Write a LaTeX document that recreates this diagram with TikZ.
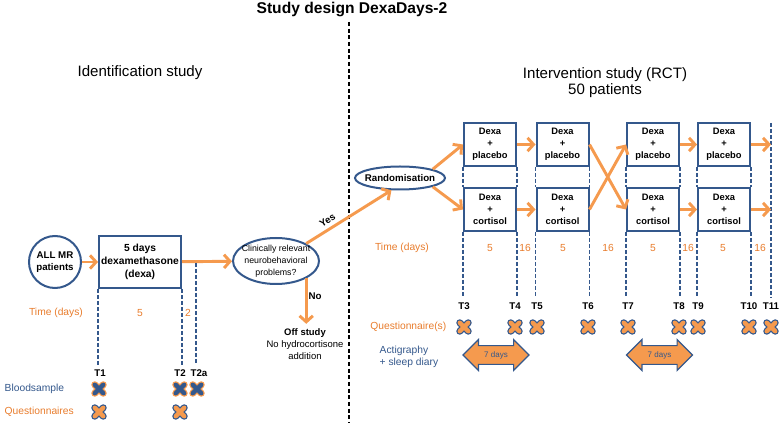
\documentclass[tikz,border=0pt]{standalone}
\usepackage{fontspec}
\setmainfont{Liberation Sans}
\usetikzlibrary{arrows.meta,shapes.geometric,shapes.arrows}

\definecolor{dblue}{RGB}{52,88,140}
\definecolor{lorange}{RGB}{245,154,78}
\definecolor{dorange}{RGB}{232,124,44}

\tikzset{
  box/.style={draw=dblue, line width=1.5pt, minimum width=39pt, minimum height=32.25pt, inner sep=0pt, align=center, font=\fontsize{7}{9}\selectfont\bfseries},
  arr/.style={draw=lorange, line width=2.2pt, -{Straight Barb[length=4.5pt,width=10pt]}},
  tline/.style={draw=dblue, line width=1.1pt, dash pattern=on 3pt off 1.5pt},
  tlab/.style={font=\fontsize{7.3}{9}\selectfont\bfseries},
  days/.style={text=dorange, font=\fontsize{7.7}{9}\selectfont},
  darrow/.style={double arrow, draw=dblue, fill=lorange, line width=0.9pt, double arrow head extend=4.5pt, double arrow tip angle=90, minimum height=49.5pt, inner xsep=2pt, inner ysep=3.8pt, text=dblue, font=\fontsize{6}{7}\selectfont},
  pics/xcross/.style 2 args={code={
    \draw[#2, line width=5.2pt, line cap=round] (-3.2pt,-3.2pt) -- (3.2pt,3.2pt) (-3.2pt,3.2pt) -- (3.2pt,-3.2pt);
    \draw[#1, line width=3.2pt, line cap=round] (-3.2pt,-3.2pt) -- (3.2pt,3.2pt) (-3.2pt,3.2pt) -- (3.2pt,-3.2pt);
  }}
}

\begin{document}
\begin{tikzpicture}[x=0.75pt, y=-0.75pt]
\useasboundingbox (0,0) rectangle (781,423);

\node (title) at (352,10) [font=\fontsize{11.7}{14}\selectfont\bfseries] {Study design DexaDays-2};
\draw[line width=0.8pt, dash pattern=on 3pt off 2pt] (349,22) -- (349,423);

\node (ident) at (140,73) [font=\fontsize{11.3}{13}\selectfont] {Identification study};
\node (interv) at (605,83) [align=center, font=\fontsize{11.3}{12}\selectfont] {Intervention study (RCT)\\50 patients};

% identification study
\node (allmr) at (55,262) [circle, draw=dblue, line width=1.5pt, minimum size=39pt, inner sep=0pt, align=center, font=\fontsize{7.3}{9}\selectfont\bfseries] {ALL MR\\patients};
\node (dexa5) at (140,262) [box, minimum width=61.5pt, minimum height=39pt, font=\fontsize{7.7}{9.7}\selectfont\bfseries] {5 days\\dexamethasone\\(dexa)};
\node (clin) at (276,261) [ellipse, draw=dblue, line width=1.5pt, minimum width=64.5pt, minimum height=34.5pt, inner xsep=-4pt, inner ysep=0pt, align=center, font=\fontsize{6.6}{9}\selectfont] {Clinically relevant\\neurobehavioral\\problems?};
\node (off) at (305,344) [align=center, font=\fontsize{7.1}{9}\selectfont] {\textbf{Off study}\\No hydrocortisone\\addition};

\draw[arr] (allmr) -- (dexa5);
\draw[arr] (dexa5) -- (clin);
\draw[arr] (clin.-30) -- (clin.-30 |- off.north);
\node (no) at (315,296) [font=\fontsize{7.3}{9}\selectfont\bfseries] {No};

\node (t1) at (100,373) [tlab] {T1};
\node (t2) at (180,373) [tlab] {T2};
\node (t2a) at (199,373) [tlab] {T2a};
\coordinate (t2atop) at (196,263);
\draw[tline] (dexa5.south west) -- (dexa5.south west |- t1.north);
\draw[tline] (dexa5.south east) -- (dexa5.south east |- t2.north);
\draw[tline] (t2atop) -- (t2atop |- t2a.north);

\node (tdl) at (56,313) [days] {Time (days)};
\node (d5) at (140,313) [days] {5};
\node (d2) at (188,313) [days] {2};

\node (blood) at (0,389) [anchor=west, text=dblue, font=\fontsize{7.7}{9}\selectfont] {Bloodsample};
\node (quest) at (0,412) [anchor=west, text=dorange, font=\fontsize{7.7}{9}\selectfont] {Questionnaires};
\foreach \x in {99, 180, 197}
  \pic at (\x,389) {xcross={dblue}{lorange}};
\foreach \x in {99, 180}
  \pic at (\x,412) {xcross={lorange}{dblue}};

% intervention study
\node (rand) at (400,178) [ellipse, draw=dblue, line width=1.5pt, minimum width=67.5pt, minimum height=17.25pt, inner xsep=-4pt, inner ysep=0pt, font=\fontsize{7.3}{9}\selectfont\bfseries] {Randomisation};
\draw[arr] (clin.30) -- (rand.235) node[pos=0.3, above=1.5pt, sloped, inner sep=1pt, font=\fontsize{7.3}{9}\selectfont\bfseries] (yes) {Yes};

\foreach \i/\x in {1/490, 2/562.5, 3/653, 4/724} {
  \node (pl\i) at (\x,144.5) [box] {Dexa\\+\\placebo};
  \node (co\i) at (\x,209.5) [box] {Dexa\\+\\cortisol};
}
\coordinate (endtop) at (771,123);

\foreach \n/\x in {3/464, 4/515, 5/537, 6/588, 7/628, 8/679, 9/698, 10/749, 11/771} {
  \node (t\n) at (\x,306) [tlab] {T\n};
  \pic at (\x,327) {xcross={lorange}{dblue}};
}

\foreach \i/\a/\b in {1/3/4, 2/5/6, 3/7/8, 4/9/10} {
  \draw[tline] (pl\i.south west) -- (co\i.north west);
  \draw[tline] (pl\i.south east) -- (co\i.north east);
  \draw[tline] (co\i.south west) -- (co\i.south west |- t\a.north);
  \draw[tline] (co\i.south east) -- (co\i.south east |- t\b.north);
}
\draw[tline] (endtop) -- (endtop |- t11.north);

\draw[arr] (rand.15) -- (pl1.west);
\draw[arr] (rand.-15) -- (co1.west);
\draw[arr] (pl1) -- (pl2);
\draw[arr] (co1) -- (co2);
\draw[arr] (pl2.east) -- (co3.west);
\draw[arr] (co2.east) -- (pl3.west);
\draw[arr] (pl3) -- (pl4);
\draw[arr] (co3) -- (co4);
\draw[arr] (pl4.east) -- (pl4.east -| endtop);
\draw[arr] (co4.east) -- (co4.east -| endtop);

\node (tdr) at (402,248) [days] {Time (days)};
\foreach \x/\d in {490/5, 525/16, 563/5, 608/16, 653/5, 688/16, 723/5, 760/16}
  \node at (\x,248) [days] {\d};

\node (questr) at (451,327) [anchor=east, text=dorange, font=\fontsize{7.7}{9}\selectfont] {Questionnaire(s)};
\node (acti) at (375,357) [anchor=west, align=left, text=dblue, font=\fontsize{7.7}{9}\selectfont] {Actigraphy\\+ sleep diary};
\node (act1) at (496,355) [darrow] {7 days};
\node (act2) at (659.5,355) [darrow] {7 days};
\end{tikzpicture}
\end{document}
